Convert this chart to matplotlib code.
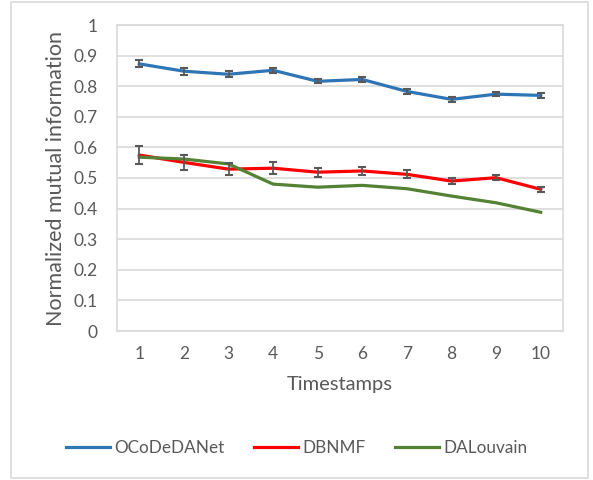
import matplotlib
matplotlib.use("Agg")
import matplotlib.pyplot as plt
from matplotlib.patches import Rectangle

timestamps = [1, 2, 3, 4, 5, 6, 7, 8, 9, 10]

ocodedanet = [0.873, 0.849, 0.839, 0.852, 0.816, 0.822, 0.783, 0.757, 0.774, 0.770]
ocodedanet_err = [0.011, 0.012, 0.010, 0.008, 0.007, 0.007, 0.009, 0.008, 0.007, 0.007]

dbnmf = [0.575, 0.551, 0.529, 0.532, 0.519, 0.523, 0.512, 0.490, 0.501, 0.463]
dbnmf_err = [0.030, 0.025, 0.020, 0.019, 0.015, 0.014, 0.013, 0.011, 0.009, 0.009]

dalouvain = [0.568, 0.562, 0.546, 0.480, 0.470, 0.476, 0.465, 0.441, 0.419, 0.388]

y_ticks = [0, 0.1, 0.2, 0.3, 0.4, 0.5, 0.6, 0.7, 0.8, 0.9, 1]
y_tick_labels = ["0", "0.1", "0.2", "0.3", "0.4", "0.5", "0.6", "0.7", "0.8", "0.9", "1"]

plt.rcParams["font.family"] = ["Lato", "DejaVu Sans"]
text_color = "#595959"
grid_color = "#D9D9D9"

fig = plt.figure(figsize=(5.93, 4.8), dpi=100)
fig.patches.append(Rectangle((11 / 593, 2 / 480), 577 / 593, 476 / 480,
                             transform=fig.transFigure, fill=False,
                             edgecolor=grid_color, linewidth=1.2))

ax = fig.add_axes([117 / 593, 149 / 480, 446 / 593, 306 / 480])

colors = {"OCoDeDANet": "#2E75B6", "DBNMF": "#FF0000", "DALouvain": "#548235"}

ax.plot(timestamps, ocodedanet, color=colors["OCoDeDANet"], lw=2.3, label="OCoDeDANet", zorder=3)
ax.plot(timestamps, dbnmf, color=colors["DBNMF"], lw=2.3, label="DBNMF", zorder=3)
ax.plot(timestamps, dalouvain, color=colors["DALouvain"], lw=2.3, label="DALouvain", zorder=3)

for vals, errs in [(ocodedanet, ocodedanet_err), (dbnmf, dbnmf_err)]:
    ax.errorbar(timestamps, vals, yerr=errs, fmt="none", ecolor="#595959",
                elinewidth=1.3, capsize=3, capthick=1.5, zorder=4)

ax.set_xlim(0.5, 10.5)
ax.set_ylim(0, 1)
ax.set_yticks(y_ticks)
ax.set_yticklabels(y_tick_labels)
ax.set_xticks(timestamps)
ax.set_xticklabels([str(t) for t in timestamps])
ax.yaxis.grid(True, color=grid_color, lw=1.2)
ax.set_axisbelow(True)
for s in ax.spines.values():
    s.set_color(grid_color)
    s.set_linewidth(1.2)
ax.tick_params(axis="both", length=0, colors=text_color, labelsize=12.5)
ax.tick_params(axis="y", pad=14)
ax.tick_params(axis="x", pad=11)

ax.set_xlabel("Timestamps", fontsize=14.5, color=text_color, labelpad=10)
ax.set_ylabel("Normalized mutual information", fontsize=15.5, color=text_color, labelpad=5)

leg = fig.legend(loc="center", bbox_to_anchor=(0.5, 32 / 480), ncol=3, frameon=False,
                 fontsize=12.3, handlelength=2.6, handletextpad=0.25, columnspacing=1.7)
for t in leg.get_texts():
    t.set_color(text_color)

fig.savefig("out.png", dpi=100)
